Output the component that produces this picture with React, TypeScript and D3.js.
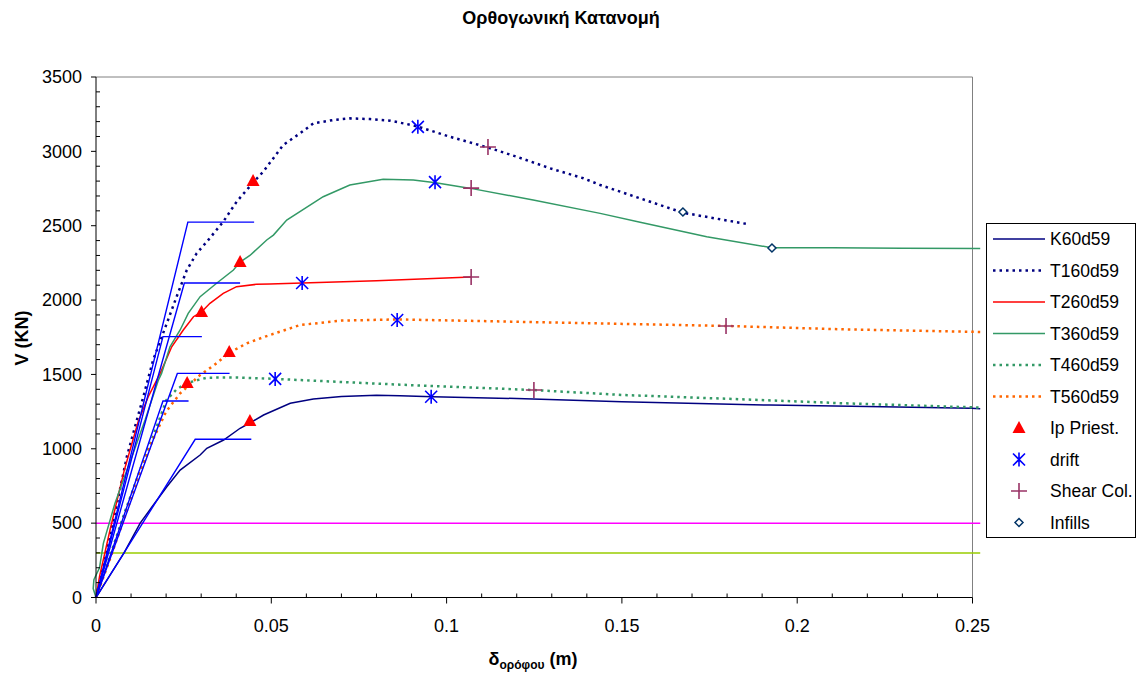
import React from "react";
import * as d3 from "d3";

type P = [number, number];

const xTicks = [0, 0.05, 0.1, 0.15, 0.2, 0.25];
const yTicks = [0, 500, 1000, 1500, 2000, 2500, 3000, 3500];

const K60d59: P[] = [[0,0],[0.004,150],[0.008,300],[0.0126,500],[0.016,610],[0.0202,745],[0.024,857],[0.0297,958],[0.0316,1003],[0.0364,1059],[0.0411,1138],[0.044,1175],[0.0478,1227],[0.0554,1306],[0.062,1335],[0.07,1352],[0.08,1360],[0.0867,1357],[0.096,1350],[0.12,1338],[0.15,1317],[0.1921,1294],[0.22,1285],[0.2496,1272],[0.2522,1270]];
const T160d59: P[] = [[0,0],[0.002,200],[0.005,520],[0.0088,947],[0.0115,1180],[0.0135,1350],[0.0163,1597],[0.0202,1844],[0.023,2023],[0.0259,2202],[0.0287,2314],[0.0316,2392],[0.0363,2527],[0.0401,2661],[0.0448,2790],[0.0477,2863],[0.0534,3043],[0.0582,3121],[0.062,3188],[0.0677,3211],[0.0724,3222],[0.0782,3217],[0.0839,3206],[0.0886,3184],[0.0919,3166],[0.101,3098],[0.1119,3025],[0.12,2964],[0.1295,2886],[0.139,2819],[0.1438,2774],[0.1552,2684],[0.1675,2587],[0.1858,2511]];
const T260d59: P[] = [[0,0],[0.001,140],[0.004,454],[0.008,850],[0.012,1180],[0.0149,1350],[0.0183,1507],[0.0216,1686],[0.0249,1799],[0.0278,1888],[0.0301,1920],[0.0325,1978],[0.0363,2045],[0.0401,2090],[0.0458,2106],[0.0496,2108],[0.0588,2115],[0.08,2130],[0.107,2155]];
const T360d59: P[] = [[0,0],[-0.0008,60],[-0.0006,120],[0.001,200],[0.0021,364],[0.0054,633],[0.0078,790],[0.0106,970],[0.014,1193],[0.0178,1462],[0.0187,1507],[0.0211,1686],[0.024,1799],[0.0263,1911],[0.0297,2023],[0.0344,2113],[0.0392,2202],[0.0411,2256],[0.0439,2300],[0.0487,2404],[0.0506,2437],[0.0544,2538],[0.0648,2695],[0.0724,2774],[0.0819,2812],[0.0905,2807],[0.0969,2789],[0.1069,2751],[0.1247,2673],[0.1438,2583],[0.1552,2523],[0.1742,2426],[0.1927,2352],[0.21,2352],[0.23,2348],[0.2522,2347]];
const T460d59: P[] = [[0,0],[0.004,280],[0.008,560],[0.0126,857],[0.0173,1148],[0.0201,1328],[0.023,1400],[0.0259,1442],[0.0316,1478],[0.04,1480],[0.0511,1470],[0.0867,1431],[0.1249,1395],[0.15,1362],[0.1816,1335],[0.2132,1306],[0.2496,1279],[0.2522,1277]];
const T560d59: P[] = [[0,0],[0.004,260],[0.008,530],[0.012,800],[0.016,1050],[0.02,1250],[0.024,1373],[0.0297,1496],[0.0344,1575],[0.038,1646],[0.043,1709],[0.0487,1758],[0.0582,1832],[0.07,1862],[0.0859,1870],[0.1183,1855],[0.1797,1826],[0.2132,1803],[0.2496,1787],[0.2522,1785]];

const bilinear: P[][] = [
  [[0,0],[0.0262,2524],[0.0451,2524]],
  [[0,0],[0.0252,2115],[0.0411,2115]],
  [[0,0],[0.0191,1754],[0.0302,1754]],
  [[0,0],[0.0232,1507],[0.0381,1507]],
  [[0,0],[0.0191,1321],[0.0264,1321]],
  [[0,0],[0.0283,1064],[0.0443,1064]],
];
const limit500: P[] = [[0,500],[0.2522,500]];
const limit300: P[] = [[0,300],[0.2522,300]];

const ipPriest: P[] = [[0.0448,2800],[0.0411,2256],[0.0301,1920],[0.038,1650],[0.026,1442],[0.0439,1187]];
const drift: P[] = [[0.0918,3165],[0.0967,2793],[0.0588,2115],[0.0859,1866],[0.0511,1470],[0.0956,1350]];
const shearCol: P[] = [[0.1118,3029],[0.107,2753],[0.107,2155],[0.1797,1826],[0.1249,1395]];
const infills: P[] = [[0.1674,2592],[0.1928,2350]];

const FONT = "'Liberation Sans', Arial, sans-serif";

const x = d3.scaleLinear().domain([0, 0.25]).range([96, 972.5]);
const y = d3.scaleLinear().domain([0, 3500]).range([597.5, 77]);
const line = d3.line<P>().x(d => x(d[0])).y(d => y(d[1]));

const series = [
  { name: "K60d59", data: K60d59, color: "#000080", dash: "", w: 1.5 },
  { name: "T160d59", data: T160d59, color: "#000080", dash: "2.5 4", w: 2.5 },
  { name: "T260d59", data: T260d59, color: "#FF0000", dash: "", w: 1.5 },
  { name: "T360d59", data: T360d59, color: "#339966", dash: "", w: 1.5 },
  { name: "T460d59", data: T460d59, color: "#339966", dash: "2.5 4", w: 2.5 },
  { name: "T560d59", data: T560d59, color: "#FF6600", dash: "2.5 4", w: 2.5 },
];

const Tri = ({ cx, cy }: { cx: number; cy: number }) => (
  <path d={`M${cx},${cy - 7}L${cx + 6.5},${cy + 5}L${cx - 6.5},${cy + 5}Z`} fill="#FF0000" />
);
const Star = ({ cx, cy }: { cx: number; cy: number }) => (
  <path d={`M${cx - 6},${cy - 6}L${cx + 6},${cy + 6}M${cx - 6},${cy + 6}L${cx + 6},${cy - 6}M${cx},${cy - 7}L${cx},${cy + 7}`} stroke="#0000FF" strokeWidth={1.6} fill="none" />
);
const Plus = ({ cx, cy }: { cx: number; cy: number }) => (
  <path d={`M${cx - 8},${cy}L${cx + 8},${cy}M${cx},${cy - 8}L${cx},${cy + 8}`} stroke="#993366" strokeWidth={1.6} fill="none" />
);
const Dia = ({ cx, cy }: { cx: number; cy: number }) => (
  <path d={`M${cx},${cy - 4}L${cx + 4},${cy}L${cx},${cy + 4}L${cx - 4},${cy}Z`} stroke="#003366" strokeWidth={1.5} fill="#fff" />
);

export default function App() {
  const minorX = d3.range(0, 0.2501, 0.01).filter(v => Math.abs((v / 0.05) - Math.round(v / 0.05)) > 1e-6);
  const minorY = d3.range(0, 3501, 100).filter(v => v % 500 !== 0);
  const legendY = (i: number) => 239 + i * 31.5;
  return (
    <svg width={1137} height={673} style={{ position: "absolute", left: 0, top: 0, background: "#fff" }} fontFamily={FONT}>
      <rect x={0} y={0} width={1137} height={673} fill="#fff" />
      <text x={561} y={24} textAnchor="middle" fontSize={18} fontWeight="bold">Ορθογωνική Κατανομή</text>
      {/* plot border */}
      <path d={`M${x(0)},${y(3500)}H${x(0.25)}V${y(0)}`} stroke="#808080" strokeWidth={1} fill="none" />
      {/* reference lines */}
      <path d={line(limit500)!} stroke="#FF00FF" strokeWidth={1.5} fill="none" />
      <path d={line(limit300)!} stroke="#99CC00" strokeWidth={1.5} fill="none" />
      {series.map(s => (
        <path key={s.name} d={line(s.data)!} stroke={s.color} strokeWidth={s.w} strokeDasharray={s.dash || undefined} fill="none" />
      ))}
      {bilinear.map((b, i) => (
        <path key={i} d={line(b)!} stroke="#0000FF" strokeWidth={1.4} fill="none" />
      ))}
      {/* axes */}
      <line x1={x(0)} x2={x(0.25)} y1={y(0)} y2={y(0)} stroke="#000" strokeWidth={1} />
      <line x1={x(0)} x2={x(0)} y1={y(0)} y2={y(3500)} stroke="#000" strokeWidth={1} />
      {xTicks.map(t => (
        <g key={t}>
          <line x1={x(t)} x2={x(t)} y1={y(0)} y2={y(0) + 6} stroke="#000" />
          <text x={x(t)} y={632} textAnchor="middle" fontSize={18}>{t}</text>
        </g>
      ))}
      {minorX.map(t => <line key={t} x1={x(t)} x2={x(t)} y1={y(0)} y2={y(0) - 4} stroke="#000" />)}
      {yTicks.map(t => (
        <g key={t}>
          <line x1={x(0) - 5} x2={x(0)} y1={y(t)} y2={y(t)} stroke="#000" />
          <text x={82} y={y(t)} dy="0.35em" textAnchor="end" fontSize={18}>{t}</text>
        </g>
      ))}
      {minorY.map(t => <line key={t} x1={x(0)} x2={x(0) + 4} y1={y(t)} y2={y(t)} stroke="#000" />)}
      {/* markers */}
      {ipPriest.map((d, i) => <Tri key={i} cx={x(d[0])} cy={y(d[1])} />)}
      {drift.map((d, i) => <Star key={i} cx={x(d[0])} cy={y(d[1])} />)}
      {shearCol.map((d, i) => <Plus key={i} cx={x(d[0])} cy={y(d[1])} />)}
      {infills.map((d, i) => <Dia key={i} cx={x(d[0])} cy={y(d[1])} />)}
      {/* axis titles */}
      <text transform="translate(28,338) rotate(-90)" textAnchor="middle" fontSize={18} fontWeight="bold">V (KN)</text>
      <text x={533} y={665} textAnchor="middle" fontSize={18} fontWeight="bold">δ<tspan fontSize={12} dy={4}>ορόφου</tspan><tspan dy={-4}> (m)</tspan></text>
      {/* legend */}
      <rect x={986.5} y={223.5} width={149} height={314} fill="#fff" stroke="#000" strokeWidth={1} />
      {series.map((s, i) => (
        <g key={s.name}>
          <line x1={993} x2={1045} y1={legendY(i)} y2={legendY(i)} stroke={s.color} strokeWidth={s.w} strokeDasharray={s.dash || undefined} />
          <text x={1050} y={legendY(i)} dy="0.35em" fontSize={17.5}>{s.name}</text>
        </g>
      ))}
      <Tri cx={1019} cy={legendY(6)} />
      <text x={1050} y={legendY(6)} dy="0.35em" fontSize={17.5}>Ip Priest.</text>
      <Star cx={1019} cy={legendY(7)} />
      <text x={1050} y={legendY(7)} dy="0.35em" fontSize={17.5}>drift</text>
      <Plus cx={1019} cy={legendY(8)} />
      <text x={1050} y={legendY(8)} dy="0.35em" fontSize={17.5}>Shear Col.</text>
      <Dia cx={1019} cy={legendY(9)} />
      <text x={1050} y={legendY(9)} dy="0.35em" fontSize={17.5}>Infills</text>
    </svg>
  );
}
